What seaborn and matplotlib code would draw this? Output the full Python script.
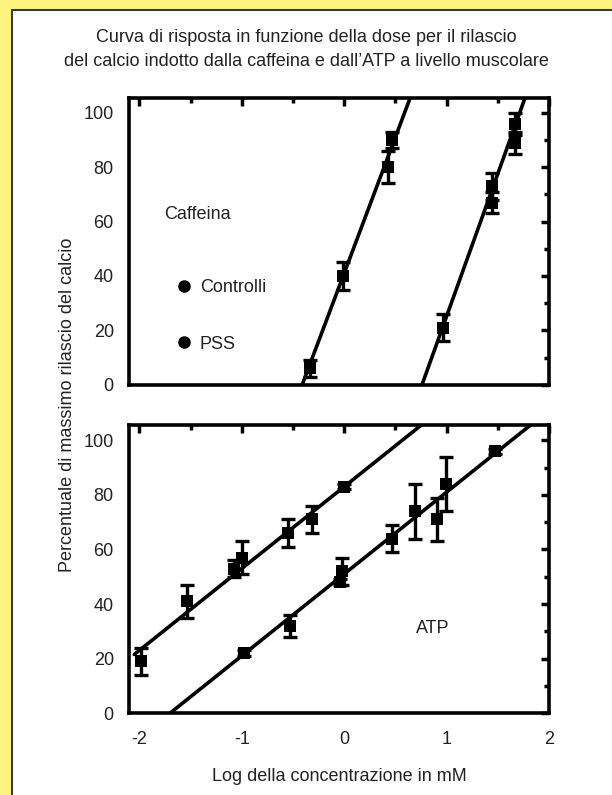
import matplotlib
matplotlib.use("Agg")
import matplotlib.pyplot as plt
import seaborn as sns
import numpy as np
import pandas as pd
from matplotlib.lines import Line2D
from matplotlib.patches import Rectangle

# ---------------- data ----------------
title_lines = ["Curva di risposta in funzione della dose per il rilascio",
               "del calcio indotto dalla caffeina e dall\u2019ATP a livello muscolare"]
x_label = "Log della concentrazione in mM"
y_label = "Percentuale di massimo rilascio del calcio"
series_names = ["Controlli", "PSS"]

# Caffeina panel - points (log mM, % release) and error half-widths
caf_ctrl_x = [-0.33, -0.01, 0.43, 0.47]
caf_ctrl_y = [6, 40, 80, 90]
caf_ctrl_err = [3, 5, 6, 3]
caf_pss_x = [0.97, 1.44, 1.44, 1.67, 1.67]
caf_pss_y = [21, 67, 73, 89, 96]
caf_pss_err = [5, 4, 5, 4, 4]
# fitted lines (endpoints)
caf_ctrl_fit_x = [-0.41, 0.68]
caf_ctrl_fit_y = [0, 109]
caf_pss_fit_x = [0.76, 1.80]
caf_pss_fit_y = [0, 109]

# ATP panel
atp_ctrl_x = [-1.98, -1.53, -1.08, -1.00, -0.55, -0.31, 0.00]
atp_ctrl_y = [19, 41, 53, 57, 66, 71, 83]
atp_ctrl_err = [5, 6, 3, 6, 5, 5, 1]
atp_pss_x = [-0.98, -0.53, -0.04, -0.02, 0.47, 0.69, 0.91, 0.99, 1.47]
atp_pss_y = [22, 32, 48, 52, 64, 74, 71, 84, 96]
atp_pss_err = [1, 4, 1, 5, 5, 10, 8, 10, 1]
atp_ctrl_fit_x = [-2.05, 0.80]
atp_ctrl_fit_y = [21.5, 107]
atp_pss_fit_x = [-1.70, 1.90]
atp_pss_fit_y = [0, 108]

x_ticks = [-2, -1, 0, 1, 2]
y_ticks = [0, 20, 40, 60, 80, 100]

# ---------------- style ----------------
sns.set_theme(style="white")
plt.rcParams['font.family'] = ['Liberation Sans', 'DejaVu Sans']
plt.rcParams['axes.unicode_minus'] = False
FS = 13
YELLOW = "#FFF380"

fig = plt.figure(figsize=(6.12, 7.95), dpi=100, facecolor=YELLOW)
# white panel with dark border on top/left
fig.patches.append(Rectangle((12 / 612, 0), 1 - 12 / 612, 1 - 10 / 795,
                             transform=fig.transFigure, facecolor="white",
                             edgecolor="none", zorder=-5))
fig.lines.append(Line2D([12 / 612, 12 / 612], [0, 1 - 10 / 795], transform=fig.transFigure,
                        color="#3a3a3a", lw=1.5, zorder=-4))
fig.lines.append(Line2D([12 / 612, 1], [1 - 10 / 795, 1 - 10 / 795], transform=fig.transFigure,
                        color="#3a3a3a", lw=1.5, zorder=-4))

ax1 = fig.add_axes([0.211, 0.516, 0.686, 0.361])
ax2 = fig.add_axes([0.211, 0.103, 0.686, 0.362])


def style_axes(ax, show_xlabels):
    ax.set_xlim(-2.1, 2.0)
    ax.set_ylim(0, 105.5)
    ax.set_xticks(x_ticks)
    ax.set_yticks(y_ticks)
    ax.set_xticks(np.arange(-2, 2.01, 0.5), minor=True)
    ax.set_yticks(np.arange(0, 101, 10), minor=True)
    ax.tick_params(which="both", direction="in", top=True, right=True,
                   color="black", width=2.5, labelsize=FS, labelcolor="#222222")
    ax.tick_params(which="major", length=6)
    ax.tick_params(axis="y", which="major", pad=11)
    ax.tick_params(axis="x", which="major", pad=13)
    ax.tick_params(which="minor", length=3.5)
    ax.tick_params(axis="x", labelbottom=show_xlabels)
    for s in ax.spines.values():
        s.set_visible(True)
        s.set_color("black")
        s.set_linewidth(2.6)
    ax.set_facecolor("white")
    ax.set_xlabel("")
    ax.set_ylabel("")


def draw_series(ax, xs, ys, errs):
    ax.errorbar(xs, ys, yerr=errs, fmt="none", ecolor="black", elinewidth=2.4,
                capsize=5, capthick=2.4, zorder=3)
    sns.scatterplot(x=xs, y=ys, ax=ax, marker="s", s=64, color="black",
                    edgecolor="black", linewidth=0, zorder=4, legend=False)


def draw_fit(ax, xs, ys):
    sns.lineplot(x=xs, y=ys, ax=ax, color="black", lw=2.6, zorder=2,
                 legend=False, estimator=None)


# Caffeina panel
draw_fit(ax1, caf_ctrl_fit_x, caf_ctrl_fit_y)
draw_fit(ax1, caf_pss_fit_x, caf_pss_fit_y)
draw_series(ax1, caf_ctrl_x, caf_ctrl_y, caf_ctrl_err)
draw_series(ax1, caf_pss_x, caf_pss_y, caf_pss_err)
style_axes(ax1, False)
ax1.text(-1.76, 62.5, "Caffeina", fontsize=FS, color="#222222", va="center", ha="left")
handles = [Line2D([], [], marker="o", ls="none", color="black", markersize=8)
           for _ in series_names]
ax1.legend(handles, series_names, loc="lower left", bbox_to_anchor=(0.065, 0.055),
           frameon=False, fontsize=FS, labelspacing=2.2, handletextpad=0.3,
           handlelength=1.2, labelcolor="#222222")

# ATP panel
draw_fit(ax2, atp_ctrl_fit_x, atp_ctrl_fit_y)
draw_fit(ax2, atp_pss_fit_x, atp_pss_fit_y)
draw_series(ax2, atp_ctrl_x, atp_ctrl_y, atp_ctrl_err)
draw_series(ax2, atp_pss_x, atp_pss_y, atp_pss_err)
style_axes(ax2, True)
ax2.text(0.86, 31, "ATP", fontsize=FS, color="#222222", va="center", ha="center")
ax2.set_xlabel(x_label, fontsize=FS, color="#222222", labelpad=14)

fig.text(68 / 612, 1 - 405 / 795, y_label, rotation=90, fontsize=FS, color="#222222",
         ha="center", va="center")
fig.text(0.5, 1 - 37 / 795, title_lines[0], fontsize=FS, color="#222222", ha="center", va="center")
fig.text(0.5, 1 - 62 / 795, title_lines[1], fontsize=FS, color="#222222", ha="center", va="center")

fig.savefig("out.png", dpi=100, facecolor=YELLOW)
